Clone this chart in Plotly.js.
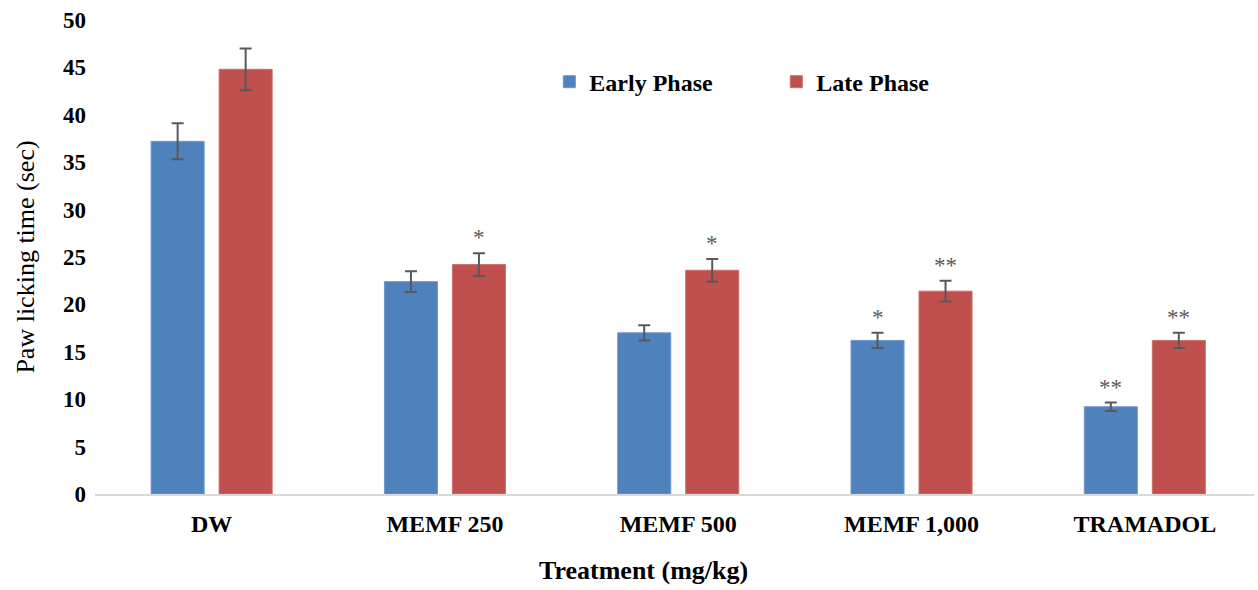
<!DOCTYPE html>
<html>
<head>
<meta charset="utf-8">
<script src="https://cdn.plot.ly/plotly-3.0.1.min.js"></script>
<style>html,body{margin:0;padding:0;background:#fff;}#chart{width:1258px;height:590px;}</style>
</head>
<body>
<div id="chart"></div>
<script>
const categories = ['DW', 'MEMF 250', 'MEMF 500', 'MEMF 1,000', 'TRAMADOL'];
const earlyPhase = [37.2, 22.4, 17.0, 16.2, 9.2];
const earlyErr = [1.9, 1.1, 0.8, 0.8, 0.45];
const latePhase = [44.8, 24.2, 23.6, 21.4, 16.2];
const lateErr = [2.2, 1.2, 1.2, 1.1, 0.8];
const earlyStars = ['', '', '', '*', '**'];
const lateStars = ['', '*', '*', '**', '**'];

const FONT = 'Liberation Serif, Times New Roman, serif';
const BARGAP = 0.417;
const slot = (1 - BARGAP) / 2;

const errStyle = {type: 'data', visible: true, color: '#595959', thickness: 2, width: 6};

const traces = [
  {type: 'bar', name: 'Early Phase', x: categories, y: earlyPhase,
   error_y: Object.assign({array: earlyErr}, errStyle),
   marker: {color: '#4F81BD', line: {color: '#6F97CC', width: 1}}},
  {type: 'bar', name: 'Late Phase', x: categories, y: latePhase,
   error_y: Object.assign({array: lateErr}, errStyle),
   marker: {color: '#C0504D', line: {color: '#CC6E6B', width: 1}}}
];

const annotations = [];
function addStars(stars, vals, errs, dir) {
  stars.forEach((s, i) => {
    if (!s) return;
    annotations.push({x: i + dir * slot / 2, y: vals[i] + errs[i], xref: 'x', yref: 'y',
      text: s, showarrow: false, yanchor: 'bottom', yshift: 1,
      font: {family: FONT, size: 23, color: '#595959'}});
  });
}
addStars(earlyStars, earlyPhase, earlyErr, -1);
addStars(lateStars, latePhase, lateErr, 1);

// x-axis title placed as a paper annotation (centred on the figure as in the reference)
annotations.push({text: 'Treatment (mg/kg)', xref: 'paper', yref: 'paper', x: 0.4733, y: -0.1624,
  xanchor: 'center', yanchor: 'middle', showarrow: false,
  font: {family: FONT, size: 26, color: '#000000', weight: 'bold'}});

const layout = {
  width: 1258, height: 590,
  margin: {l: 95, r: 4, t: 20, b: 96},
  paper_bgcolor: '#ffffff', plot_bgcolor: '#ffffff',
  barmode: 'group', bargap: BARGAP, bargroupgap: 0.22,
  font: {family: FONT, color: '#000000'},
  showlegend: true,
  legend: {orientation: 'h', x: 0.392, y: 0.869, xanchor: 'left', yanchor: 'middle',
    font: {family: FONT, size: 24, color: '#000000', weight: 'bold'},
    entrywidth: 182, entrywidthmode: 'pixels', bgcolor: 'rgba(0,0,0,0)'},
  xaxis: {type: 'category', range: [-0.5, 4.468], showline: true, linecolor: '#D9D9D9', linewidth: 1.5,
    ticks: '', showgrid: false, zeroline: false, ticklabelstandoff: 8,
    tickfont: {family: FONT, size: 24, color: '#000000', weight: 'bold'}},
  yaxis: {range: [0, 50], dtick: 5, showline: false, showgrid: false, zeroline: false, ticks: '',
    ticklabelstandoff: 8,
    tickfont: {family: FONT, size: 23, color: '#000000', weight: 'bold'},
    title: {text: 'Paw licking time (sec)', standoff: 20, font: {family: FONT, size: 26, color: '#000000'}}},
  annotations: annotations
};

Plotly.newPlot('chart', traces, layout, {displayModeBar: false, staticPlot: true});
</script>
</body>
</html>
